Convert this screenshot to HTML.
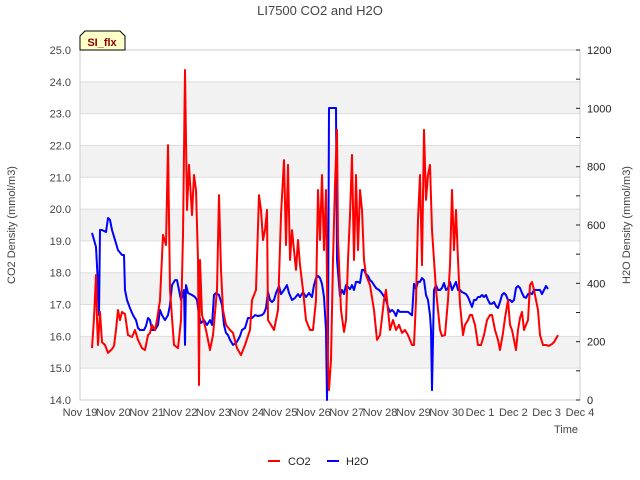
<!DOCTYPE html>
<html><head><meta charset="utf-8"><style>
body{margin:0;background:#fff;}
svg{font-family:"Liberation Sans",sans-serif;display:block;}
</style></head><body>
<svg id="chart" width="640" height="480" xmlns="http://www.w3.org/2000/svg">
<text x="320" y="15" text-anchor="middle" font-size="13" fill="#444">LI7500 CO2 and H2O</text>
<g id="bands"></g>
<g id="grid"></g>
<rect x="80" y="50" width="500" height="350" fill="none" stroke="#ccc"/>
<g id="axes"></g>
<g id="series"></g>
<text x="15" y="225" transform="rotate(-90 15 225)" text-anchor="middle" font-size="11" fill="#444">CO2 Density (mmol/m3)</text>
<text x="630" y="225" transform="rotate(-90 630 225)" text-anchor="middle" font-size="11" fill="#444">H2O Density (mmol/m3)</text>
<text x="578" y="433" text-anchor="end" font-size="11" fill="#444">Time</text>
<g>
<path d="M80,50 L80,36 L85,31 L120,31 L125,36 L125,50 Z" fill="#ffffc8" stroke="#000"/>
<text x="102" y="46" text-anchor="middle" font-size="11" font-weight="bold" fill="#8b0000">SI_flx</text>
</g>
<g>
<line x1="268" y1="461" x2="280" y2="461" stroke="#f00" stroke-width="2"/>
<text x="288" y="465" font-size="11" fill="#222">CO2</text>
<line x1="327" y1="461" x2="339" y2="461" stroke="#00f" stroke-width="2"/>
<text x="346" y="465" font-size="11" fill="#222">H2O</text>
</g>
</svg>
<script>
const xTickLabels=["Nov 19","Nov 20","Nov 21","Nov 22","Nov 23","Nov 24","Nov 25","Nov 26","Nov 27","Nov 28","Nov 29","Nov 30","Dec 1","Dec 2","Dec 3","Dec 4"];
const co2Ticks=[14,15,16,17,18,19,20,21,22,23,24,25];
const h2oTicks=[0,200,400,600,800,1000,1200];
const co2Days=[0.36,0.42,0.48,0.51,0.54,0.60,0.66,0.75,0.84,0.96,1.02,1.08,1.14,1.20,1.26,1.35,1.44,1.56,1.65,1.74,1.86,1.95,2.04,2.10,2.16,2.25,2.31,2.40,2.49,2.58,2.64,2.70,2.82,2.94,3.03,3.09,3.15,3.21,3.27,3.36,3.42,3.48,3.54,3.57,3.60,3.66,3.78,3.90,3.99,4.11,4.17,4.23,4.29,4.38,4.50,4.59,4.71,4.83,4.95,5.10,5.16,5.28,5.37,5.43,5.49,5.55,5.61,5.64,5.73,5.82,5.94,6.03,6.12,6.18,6.24,6.30,6.36,6.42,6.48,6.54,6.60,6.69,6.78,6.90,6.99,7.08,7.14,7.20,7.26,7.32,7.38,7.41,7.44,7.47,7.53,7.59,7.65,7.71,7.74,7.83,7.92,7.98,8.04,8.10,8.16,8.22,8.28,8.34,8.40,8.46,8.52,8.58,8.70,8.82,8.91,9.00,9.12,9.18,9.24,9.30,9.39,9.48,9.57,9.66,9.75,9.84,9.96,10.02,10.08,10.14,10.20,10.26,10.32,10.38,10.44,10.50,10.56,10.62,10.68,10.80,10.86,10.95,11.04,11.10,11.16,11.22,11.28,11.34,11.40,11.49,11.55,11.64,11.70,11.76,11.85,11.94,12.03,12.12,12.21,12.30,12.36,12.45,12.54,12.60,12.69,12.75,12.84,12.90,12.96,13.02,13.08,13.14,13.20,13.26,13.32,13.38,13.44,13.50,13.56,13.62,13.68,13.74,13.80,13.89,13.98,14.07,14.16,14.22,14.34];
const co2Values=[15.63,16.58,17.93,16.51,15.73,16.77,15.82,15.73,15.48,15.60,15.70,16.20,16.83,16.51,16.77,16.70,16.04,15.98,16.20,15.89,15.63,15.57,16.04,16.11,16.36,16.20,16.51,17.14,19.19,18.87,22.01,17.46,15.73,15.63,16.51,19.19,24.37,19.97,21.39,19.81,21.07,20.60,18.40,14.47,18.40,16.67,16.20,15.57,16.04,17.46,20.44,18.09,16.83,16.36,16.20,16.11,15.63,15.41,15.73,16.20,17.14,17.46,20.44,19.97,19.03,19.34,19.97,16.51,16.36,16.20,16.83,19.81,21.54,18.87,21.39,18.40,19.34,18.71,18.09,19.03,18.24,17.46,16.51,16.20,16.20,17.14,20.60,19.03,21.07,18.71,20.60,17.77,15.10,14.31,15.26,18.40,20.76,22.49,19.03,16.83,16.14,16.51,18.40,19.81,21.70,18.40,21.07,18.71,20.60,19.97,18.40,17.93,17.61,16.83,15.89,16.04,17.14,17.46,16.83,16.20,16.51,16.20,16.36,16.11,16.20,16.04,15.73,15.73,17.14,19.66,21.07,18.24,22.49,20.29,21.07,21.39,19.34,18.40,17.46,16.20,16.01,16.04,17.14,18.24,20.60,18.71,19.97,18.40,17.01,16.04,16.36,16.51,16.67,16.67,16.36,15.73,15.73,16.04,16.51,16.67,16.67,16.20,15.89,15.57,16.11,16.58,17.14,16.36,16.20,15.89,15.57,16.20,16.58,16.77,16.20,16.36,16.51,17.61,17.71,17.46,17.14,16.83,16.04,15.73,15.73,15.70,15.76,15.82,16.04,16.14];
const h2oDays=[0.36,0.42,0.48,0.54,0.57,0.60,0.66,0.78,0.84,0.90,0.96,1.05,1.14,1.26,1.32,1.35,1.41,1.50,1.59,1.68,1.74,1.80,1.92,1.98,2.04,2.10,2.16,2.25,2.34,2.40,2.46,2.55,2.64,2.70,2.76,2.85,2.91,2.97,3.03,3.09,3.12,3.15,3.18,3.24,3.36,3.45,3.51,3.57,3.63,3.72,3.81,3.90,3.96,4.02,4.08,4.17,4.26,4.32,4.38,4.44,4.50,4.59,4.68,4.74,4.80,4.86,4.95,5.04,5.16,5.25,5.34,5.46,5.52,5.58,5.64,5.70,5.76,5.82,5.88,5.97,6.03,6.12,6.21,6.27,6.36,6.45,6.54,6.60,6.69,6.78,6.87,6.96,7.02,7.08,7.14,7.20,7.26,7.32,7.38,7.41,7.44,7.47,7.50,7.68,7.71,7.80,7.86,7.92,7.98,8.04,8.10,8.16,8.22,8.28,8.34,8.40,8.46,8.52,8.58,8.64,8.70,8.76,8.82,8.88,8.97,9.03,9.09,9.18,9.24,9.30,9.36,9.42,9.48,9.54,9.60,9.72,9.84,9.96,10.02,10.08,10.14,10.20,10.26,10.32,10.38,10.44,10.50,10.53,10.56,10.59,10.62,10.68,10.74,10.80,10.86,10.92,10.98,11.04,11.10,11.16,11.22,11.28,11.34,11.40,11.46,11.52,11.58,11.64,11.70,11.76,11.82,11.88,11.94,12.00,12.06,12.12,12.18,12.24,12.30,12.36,12.42,12.48,12.54,12.60,12.66,12.72,12.78,12.84,12.90,12.96,13.02,13.08,13.14,13.20,13.26,13.32,13.38,13.44,13.50,13.56,13.62,13.68,13.74,13.80,13.86,13.92,13.98,14.04,14.10,14.16,14.22,14.28,14.34];
const h2oValues=[573,549,525,394,291,583,583,576,624,617,583,549,514,497,497,377,343,315,291,274,247,240,240,254,281,274,240,240,257,309,291,274,291,326,394,411,411,377,343,360,377,189,394,367,360,353,343,291,264,274,257,274,257,360,367,360,326,257,230,223,206,189,195,206,219,240,247,281,281,291,288,291,298,315,370,343,336,343,367,391,363,377,394,367,343,350,363,353,370,353,367,353,394,418,425,418,398,353,240,0,206,1001,1001,1001,480,357,377,363,394,387,380,394,377,405,405,401,446,446,432,425,411,405,394,384,377,370,360,343,319,302,309,302,288,309,302,302,302,290,398,381,405,405,418,411,360,343,291,240,34,206,377,394,377,377,384,401,377,384,405,377,391,405,377,377,370,367,363,353,336,319,343,343,353,353,360,353,360,343,330,330,336,322,315,336,360,367,360,343,343,336,343,384,391,384,367,353,350,363,367,363,377,377,377,377,363,377,391,381];

const NS="http://www.w3.org/2000/svg";
const X0=80,X1=580,Y0=400,Y1=50;
function xScale(d){return X0+d*(X1-X0)/15;}
function yCO2(v){return Y0-(v-14)*(Y0-Y1)/11;}
function yH2O(v){return Y0-v*(Y0-Y1)/1200;}
function mk(tag,attrs,parent){const e=document.createElementNS(NS,tag);for(const k in attrs)e.setAttribute(k,attrs[k]);parent.appendChild(e);return e;}
const bands=document.getElementById('bands'),grid=document.getElementById('grid'),axes=document.getElementById('axes'),series=document.getElementById('series');
for(let v=15;v<25;v+=2){
  const r=mk('rect',{x:X0,y:yCO2(v+1),width:X1-X0,height:yCO2(v)-yCO2(v+1),fill:'#f2f2f2'},bands);
  
  
}
co2Ticks.forEach(v=>{
  const l=mk('line',{x1:X0,x2:X1,y1:yCO2(v),y2:yCO2(v),stroke:'#ddd'},grid);
  
  
  const t=mk('text',{x:X0-9,y:yCO2(v)+4,'text-anchor':'end','font-size':'11',fill:'#444'},axes);
  t.textContent=v.toFixed(1);
  
  
});
h2oTicks.forEach(v=>{
  const t=mk('text',{x:X1+7,y:yH2O(v)+4,'font-size':'11',fill:'#222'},axes);
  t.textContent=v;
  
  
  const l=mk('line',{x1:X1-4,x2:X1,y1:yH2O(v),y2:yH2O(v),stroke:'#222'},axes);
  
  
  if(v<1200){const m=mk('line',{x1:X1-4,x2:X1,y1:yH2O(v+100),y2:yH2O(v+100),stroke:'#222'},axes);
  
  }
});
xTickLabels.forEach((s,i)=>{
  const t=mk('text',{x:xScale(i),y:Y0+16,'text-anchor':'middle','font-size':'11',fill:'#444'},axes);
  t.textContent=s;
  
  
});
function path(days,vals,ys,color,name){
  const d=days.map((x,i)=>(i?'L':'M')+xScale(x).toFixed(1)+','+ys(vals[i]).toFixed(1)).join('');
  const p=mk('path',{d:d,fill:'none',stroke:color,'stroke-width':'2','stroke-linejoin':'round'},series);
  
  
}
path(h2oDays,h2oValues,yH2O,'#0000ff','h2o-line');
path(co2Days,co2Values,yCO2,'#ff0000','co2-line');
</script>
</body></html>
